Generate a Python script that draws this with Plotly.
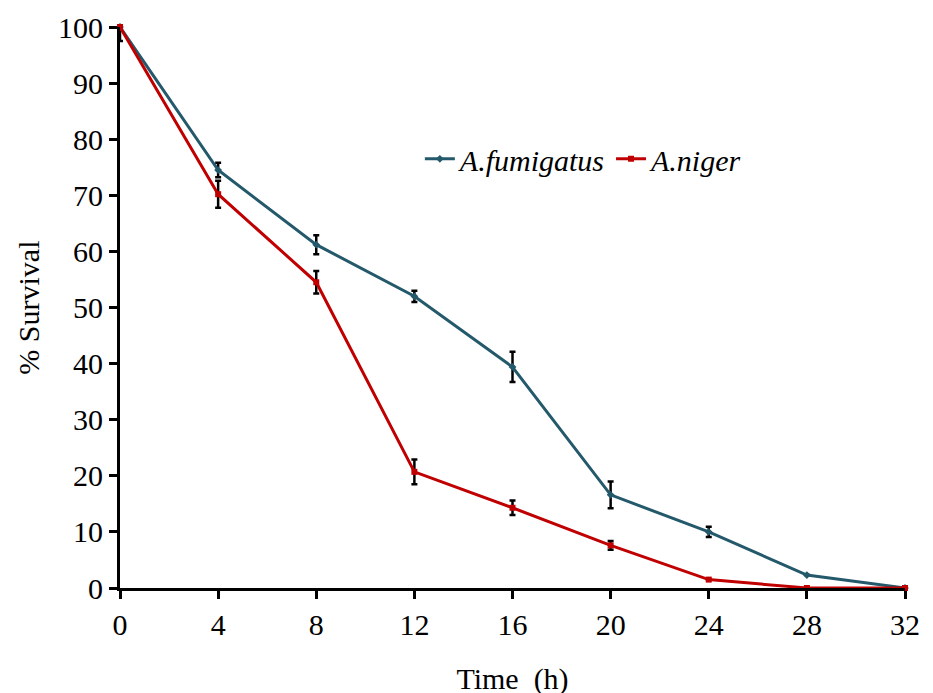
import plotly.graph_objects as go

time_h = [0, 4, 8, 12, 16, 20, 24, 28, 32]
fumigatus = [100, 74.5, 61.2, 52.0, 39.4, 16.6, 10.0, 2.3, 0]
fumigatus_err = [2.5, 1.3, 1.7, 1.0, 2.7, 2.4, 0.9, 0, 0]
niger = [100, 70.2, 54.5, 20.7, 14.3, 7.6, 1.5, 0, 0]
niger_err = [0, 2.4, 2.0, 2.2, 1.3, 0.8, 0, 0, 0]

font_family = "Liberation Serif, Times New Roman, serif"

fig = go.Figure()
fig.add_trace(go.Scatter(
    x=time_h, y=fumigatus, name="A.fumigatus", mode="lines+markers",
    line=dict(color="#23596B", width=3),
    marker=dict(symbol="diamond", size=6, color="#23596B"),
    error_y=dict(type="data", array=fumigatus_err, visible=True,
                 color="black", thickness=2.5, width=3),
    cliponaxis=False,
))
fig.add_trace(go.Scatter(
    x=time_h, y=niger, name="A.niger", mode="lines+markers",
    line=dict(color="#C00000", width=3),
    marker=dict(symbol="square", size=6, color="#C00000"),
    error_y=dict(type="data", array=niger_err, visible=True,
                 color="black", thickness=2.5, width=3),
    cliponaxis=False,
))

fig.update_layout(
    width=933, height=693,
    margin=dict(l=112, r=36, t=19, b=113),
    paper_bgcolor="white", plot_bgcolor="white",
    font=dict(family=font_family, size=30, color="black"),
    showlegend=True,
    legend=dict(x=0.382, y=0.765, xanchor="left", yanchor="middle",
                orientation="h", bgcolor="rgba(0,0,0,0)",
                font=dict(family=font_family, size=30, style="italic"),
                tracegroupgap=0),
    xaxis=dict(range=[0, 32], tickvals=time_h, ticktext=[str(t) for t in time_h],
               automargin=False,
               showgrid=False, zeroline=False, showline=True, linecolor="black",
               linewidth=3, ticks="outside", ticklen=8, tickwidth=3, tickcolor="black",
               tickfont=dict(family=font_family, size=30),
               title=dict(text="Time  (h)", font=dict(family=font_family, size=30), standoff=28)),
    yaxis=dict(range=[0, 100], tickvals=list(range(0, 101, 10)),
               automargin=False,
               showgrid=False, zeroline=False, showline=True, linecolor="black",
               linewidth=3, ticks="outside", ticklen=8, tickwidth=3, tickcolor="black",
               tickfont=dict(family=font_family, size=30)),
    annotations=[dict(text="% Survival", xref="paper", yref="paper",
                      x=-0.117, y=0.5, xanchor="center", yanchor="middle",
                      textangle=-90, showarrow=False,
                      font=dict(family=font_family, size=30, color="black"))],
)

fig.write_html("out.html")
